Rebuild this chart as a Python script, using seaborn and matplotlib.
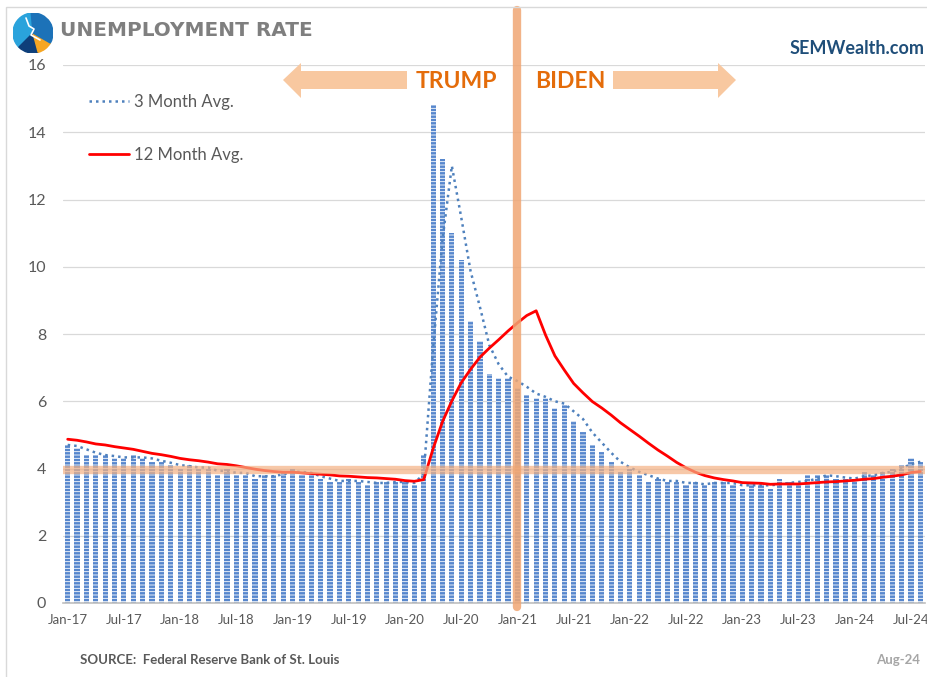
import pandas as pd
import numpy as np
import matplotlib.pyplot as plt
import matplotlib.patches as mpatches
import seaborn as sns

# =========================
# DATA
# =========================

months = list(pd.date_range("2017-01-01", periods=92, freq="MS").strftime("%b-%y"))

rate = [
    4.7, 4.6, 4.4, 4.4, 4.4, 4.3, 4.3, 4.4, 4.3, 4.2, 4.2, 4.1,
    4.0, 4.1, 4.0, 4.0, 3.8, 4.0, 3.8, 3.8, 3.7, 3.8, 3.8, 3.9,
    4.0, 3.8, 3.8, 3.7, 3.6, 3.6, 3.7, 3.6, 3.5, 3.6, 3.6, 3.6,
    3.6, 3.5, 4.4, 14.8, 13.2, 11.0, 10.2, 8.4, 7.8, 6.8, 6.7, 6.7,
    6.4, 6.2, 6.1, 6.1, 5.8, 5.9, 5.4, 5.1, 4.7, 4.5, 4.2, 3.9,
    4.0, 3.8, 3.6, 3.7, 3.6, 3.6, 3.5, 3.6, 3.5, 3.6, 3.6, 3.5,
    3.4, 3.6, 3.5, 3.4, 3.7, 3.6, 3.5, 3.8, 3.8, 3.8, 3.7, 3.7,
    3.7, 3.9, 3.8, 3.9, 4.0, 4.1, 4.3, 4.2,
]

avg_3m = [
    4.70, 4.67, 4.57, 4.47, 4.40, 4.37, 4.33, 4.33, 4.33, 4.30, 4.23, 4.17,
    4.10, 4.07, 4.03, 4.03, 3.93, 3.93, 3.87, 3.87, 3.77, 3.77, 3.77, 3.83,
    3.90, 3.90, 3.87, 3.77, 3.70, 3.63, 3.63, 3.63, 3.60, 3.57, 3.57, 3.60,
    3.60, 3.57, 3.83, 7.57, 10.80, 13.00, 11.47, 9.87, 8.80, 7.67, 7.10, 6.73,
    6.60, 6.43, 6.23, 6.13, 6.00, 5.93, 5.70, 5.47, 5.07, 4.77, 4.47, 4.20,
    4.03, 3.90, 3.80, 3.70, 3.63, 3.63, 3.57, 3.57, 3.53, 3.57, 3.57, 3.57,
    3.50, 3.50, 3.50, 3.50, 3.53, 3.57, 3.60, 3.63, 3.70, 3.80, 3.77, 3.73,
    3.70, 3.77, 3.80, 3.87, 3.90, 4.00, 4.13, 4.20,
]

avg_12m = [
    4.87, 4.84, 4.79, 4.73, 4.70, 4.65, 4.61, 4.57, 4.51, 4.45, 4.41, 4.36,
    4.30, 4.26, 4.23, 4.19, 4.14, 4.12, 4.08, 4.03, 3.98, 3.94, 3.91, 3.89,
    3.89, 3.87, 3.85, 3.83, 3.81, 3.78, 3.77, 3.75, 3.73, 3.72, 3.70, 3.68,
    3.64, 3.62, 3.67, 4.59, 5.39, 6.01, 6.55, 6.95, 7.31, 7.58, 7.83, 8.09,
    8.33, 8.55, 8.69, 7.97, 7.35, 6.93, 6.53, 6.25, 5.99, 5.80, 5.59, 5.36,
    5.16, 4.96, 4.75, 4.55, 4.37, 4.18, 4.02, 3.89, 3.79, 3.72, 3.67, 3.63,
    3.58, 3.57, 3.56, 3.53, 3.54, 3.54, 3.54, 3.56, 3.58, 3.60, 3.61, 3.63,
    3.65, 3.68, 3.70, 3.74, 3.77, 3.81, 3.88, 3.91,
]

tick_labels = ["Jan-17", "Jul-17", "Jan-18", "Jul-18", "Jan-19", "Jul-19",
               "Jan-20", "Jul-20", "Jan-21", "Jul-21", "Jan-22", "Jul-22",
               "Jan-23", "Jul-23", "Jan-24", "Jul-24"]

reference_level = 3.95
change_month = "Jan-21"

df = pd.DataFrame({"month": months, "rate": rate,
                   "avg_3m": avg_3m, "avg_12m": avg_12m})
df["pos"] = np.arange(len(df))

# =========================
# STYLE
# =========================

sns.set_style("white")
plt.rcParams["font.family"] = ["Lato", "DejaVu Sans"]
plt.rcParams["hatch.color"] = "#B3C9EA"
plt.rcParams["hatch.linewidth"] = 0.6

W, H = 927, 677
fig = plt.figure(figsize=(W / 100, H / 100), dpi=100)


def fx(x):
    return x / W


def fy(y):
    return 1 - y / H


ax = fig.add_axes([fx(63), fy(603), fx(925) - fx(63), fy(65) - fy(603)])

# =========================
# BARS + LINES
# =========================

sns.barplot(data=df, x="month", y="rate", ax=ax, color="#5787CD",
            width=0.55, saturation=1, hatch="-----", linewidth=0)

sns.lineplot(data=df, x="pos", y="avg_3m", ax=ax, color="#4F81BD",
             linestyle=(0, (1, 1.6)), linewidth=1.8, label="3 Month Avg.")
sns.lineplot(data=df, x="pos", y="avg_12m", ax=ax, color="#FF0000",
             linewidth=2, label="12 Month Avg.")

ax.axhline(reference_level, color="#F4B183", alpha=0.7, linewidth=6, zorder=3)
xc = months.index(change_month)
ax.axvline(xc, ymin=-0.008, ymax=1.102, color="#F0A673", alpha=0.85,
           linewidth=6, clip_on=False, zorder=4)

# =========================
# AXES
# =========================

ax.set_xlim(-0.5, len(df) - 0.5)
ax.set_ylim(0, 16)
ax.set_yticks(range(0, 17, 2))
ax.yaxis.grid(True, color="#D9D9D9", linewidth=0.9)
ax.set_axisbelow(True)
ax.tick_params(axis="y", labelsize=11.5, colors="#595959", length=0, pad=12)

tick_pos = [months.index(t) for t in tick_labels]
ax.set_xticks(tick_pos)
ax.set_xticklabels(tick_labels)
ax.set_xticks([p - 0.5 for p in tick_pos], minor=True)
ax.tick_params(axis="x", which="major", labelsize=9.5, colors="#595959",
               length=0, pad=8)
ax.tick_params(axis="x", which="minor", length=4, color="#BFBFBF", width=1)
ax.set_xlabel("")
ax.set_ylabel("")

for s in ["top", "right", "left"]:
    ax.spines[s].set_visible(False)
ax.spines["bottom"].set_color("#BFBFBF")
ax.spines["bottom"].set_linewidth(1.2)

leg = ax.legend(loc="upper left", bbox_to_anchor=(fx(74), fy(79)),
                bbox_transform=fig.transFigure, frameon=False, fontsize=12,
                labelspacing=2.2, handlelength=2.4, handletextpad=0.3)
for t in leg.get_texts():
    t.set_color("#595959")

# =========================
# DECORATION
# =========================

fig.patches.append(mpatches.Rectangle((fx(6), fy(680)), 1, fy(7) - fy(680),
                                      transform=fig.transFigure, fill=False,
                                      edgecolor="#D9D9D9", linewidth=1))

# logo
cx, cy, r = 33, 33, 20
logo_ax = fig.add_axes([fx(cx - r), fy(cy + r), fx(2 * r), fy(0) - fy(2 * r)])
logo_ax.set_xlim(-1, 1)
logo_ax.set_ylim(-1, 1)
logo_ax.set_aspect("equal")
logo_ax.axis("off")
for a0, a1, c in [(95, 225, "#2AA3DC"), (225, 285, "#0E3F7A"),
                  (285, 330, "#F6A623"), (330, 455, "#1C72B8")]:
    logo_ax.add_patch(mpatches.Wedge((0, 0), 1, a0, a1, color=c))
logo_ax.plot([-0.35, -0.2, 0.05, -0.1, 0.35], [0.75, 0.35, 0.2, -0.1, -0.35],
             color="white", linewidth=1.2)

fig.text(fx(60), fy(30), "UNEMPLOYMENT RATE", fontsize=14.4, fontweight="bold",
         color="#7F7F7F", va="center", ha="left", family=["DejaVu Sans"])
fig.text(fx(925), fy(48), "SEMWealth.com", fontsize=13, fontweight="bold",
         color="#1F4E79", va="center", ha="right")

# arrows
arrow_color = "#F8C8A0"
left_arrow = [(283, 80), (301, 63), (301, 71), (407, 71), (407, 89), (301, 89), (301, 98)]
right_arrow = [(736, 80), (718, 63), (718, 71), (613, 71), (613, 89), (718, 89), (718, 98)]
for pts in [left_arrow, right_arrow]:
    fig.patches.append(mpatches.Polygon([(fx(x), fy(y)) for x, y in pts],
                                        closed=True, transform=fig.transFigure,
                                        facecolor=arrow_color, edgecolor="none"))
fig.text(fx(456), fy(81), "TRUMP", fontsize=16.5, fontweight="bold",
         color="#E46C0A", ha="center", va="center")
fig.text(fx(570), fy(81), "BIDEN", fontsize=16.5, fontweight="bold",
         color="#E46C0A", ha="center", va="center")

fig.text(fx(80), fy(660), "SOURCE:  Federal Reserve Bank of St. Louis",
         fontsize=9.5, fontweight="bold", color="#595959", va="center")
fig.text(fx(920), fy(660), "Aug-24", fontsize=9.5, fontweight="bold",
         color="#A6A6A6", va="center", ha="right")

plt.savefig("out.png", dpi=100)
